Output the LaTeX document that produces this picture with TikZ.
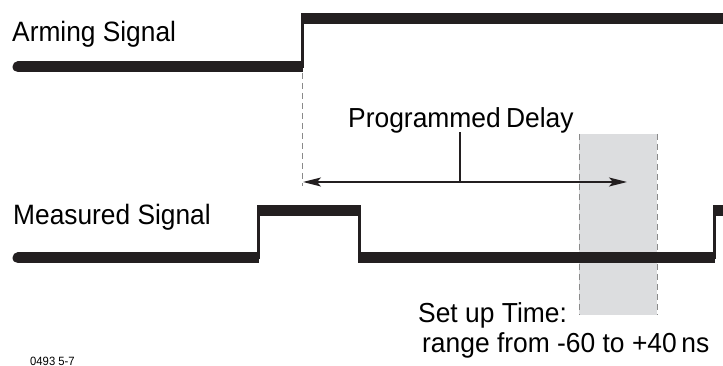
\documentclass[tikz,border=0pt]{standalone}
\usepackage{fontspec}
\setmainfont{Liberation Sans}
\newfontfamily\labbig[FakeStretch=0.94]{Liberation Sans}
\newfontfamily\labmid[FakeStretch=0.96]{Liberation Sans}
\usetikzlibrary{arrows.meta}
\definecolor{sig}{HTML}{231F20}
\definecolor{boxfill}{HTML}{DCDDDF}
\definecolor{dashgray}{HTML}{8A8A8A}
\tikzset{
  sighi/.style={draw=sig, line width=11pt, line cap=butt},
  sigedge/.style={draw=sig, line width=3pt, line cap=butt},
  guide/.style={draw=dashgray, line width=0.8pt, dash pattern=on 6pt off 4pt},
  dimline/.style={draw=sig, line width=1.4pt},
  bigtext/.style={inner sep=0pt, anchor=base west, text=black, font=\labbig\fontsize{28}{30}\selectfont},
  midtext/.style={inner sep=0pt, anchor=base west, text=black, font=\labmid\fontsize{27.5}{30}\selectfont},
  smalltext/.style={inner sep=0pt, anchor=base west, text=black, font=\labbig\fontsize{12}{13}\selectfont},
}
\begin{document}
\begin{tikzpicture}[x=1pt, y=-1pt]
\useasboundingbox (0,0) rectangle (723,366);
% setup-time window
\fill[boxfill] (579,134) rectangle (657,315);
\draw[guide] (579,134) -- (579,315);
\draw[guide] (657,134) -- (657,315);
% guide from arming edge
\draw[guide] (302,73) -- (302,186);
% arming signal
\draw[sighi, line cap=round] (18,67) -- (40,67);
\draw[sighi] (30,67) -- (303,67);
\draw[sigedge] (302.5,68) -- (302.5,18);
\draw[sighi] (301,19) -- (723,19);
% measured signal
\draw[sighi, line cap=round] (18,258) -- (40,258);
\draw[sighi] (30,258) -- (259,258);
\draw[sigedge] (258.5,259) -- (258.5,210);
\draw[sighi] (257,211) -- (361,211);
\draw[sigedge] (359.5,210) -- (359.5,259);
\draw[sighi] (358,258) -- (715,258);
\draw[sigedge] (714.5,259) -- (714.5,210);
\draw[sighi] (713,211) -- (723,211);
% programmed delay dimension
\coordinate (dl) at (303,182);
\coordinate (dr) at (627,182);
\coordinate (dm) at (460,182);
\coordinate (dt) at (460,132);
\draw[dimline, {Stealth[length=18pt,width=9pt,inset=4pt]}-{Stealth[length=18pt,width=9pt,inset=4pt]}] (dl) -- (dr);
\draw[dimline] (dm) -- (dt);
% labels
\node[bigtext] (arm) at (12,42) {Arming Signal};
\node[bigtext] (meas) at (13,225) {Measured Signal};
\node[midtext] (pd) at (348,128) {Programmed\hspace{-2pt} Delay};
\node[midtext] (su) at (418,322) {Set up Time:};
\node[midtext] (rg) at (422,352) {range from -60 to +40\,ns};
\node[smalltext] (fig) at (30,365) {0493 5-7};
\end{tikzpicture}
\end{document}
